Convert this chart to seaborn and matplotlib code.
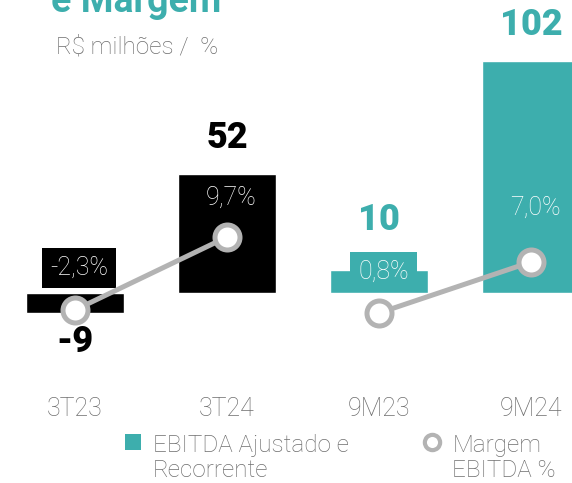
import numpy as np
import pandas as pd
import matplotlib
matplotlib.use('Agg')
import matplotlib.pyplot as plt
import seaborn as sns
from matplotlib.patches import Patch
from matplotlib.lines import Line2D

# Data
categories = ['3T23', '3T24', '9M23', '9M24']
ebitda = [-9, 52, 10, 102]
margin = [-2.3, 9.7, 0.8, 7.0]
margin_labels = ['-2,3%', '9,7%', '0,8%', '7,0%']
value_labels = ['-9', '52', '10', '102']

teal = '#3DAEAD'
grey_line = '#B3B3B3'
grey_text = '#6E6E6E'
bar_colors = ['black', 'black', teal, teal]

sns.set_style('white')
plt.rcParams['font.family'] = ['Roboto', 'DejaVu Sans']

fig = plt.figure(figsize=(5.72, 4.83), dpi=100)
# Main axes covers the full width, from y=30px to y=380px of the image
ax = fig.add_axes([0, 103 / 483, 1, 350 / 483])

df = pd.DataFrame({'cat': categories, 'ebitda': ebitda})
sns.barplot(data=df, x='cat', y='ebitda', hue='cat', palette=bar_colors,
            legend=False, width=0.645, saturation=1, ax=ax)
ax.set_xlim(-0.493, 3.27)
ax.set_ylim(-38.2, 115.4)
ax.set_xlabel('')
ax.set_ylabel('')
ax.set_yticks([])
ax.tick_params(axis='x', length=0, pad=12, labelsize=18, labelcolor=grey_text)
for lab in ax.get_xticklabels():
    lab.set_fontweight('light')
sns.despine(ax=ax, left=True, bottom=True)

# Value labels above / below the bars
value_offsets = [-29, 36, 50, 36]
value_colors = ['black', 'black', teal, teal]
for i, (v, txt) in enumerate(zip(ebitda, value_labels)):
    ax.annotate(txt, (i, v), xytext=(0, value_offsets[i] * 0.72),
                textcoords='offset points', ha='center', va='center',
                fontsize=26, fontweight='black', color=value_colors[i])

# Margin labels (white text, small bars get a box behind)
label_y = [10.9, 42, 9.1, 37.4]
box_colors = ['black', None, teal, None]
for i, txt in enumerate(margin_labels):
    bbox = None
    if box_colors[i] is not None:
        bbox = dict(boxstyle='square,pad=0.32', fc=box_colors[i], ec='none')
    ax.text(i + 0.03, label_y[i], txt, ha='center', va='center', fontsize=18,
            fontweight='light', color='white', bbox=bbox)

# Margin lines, each pair on its own secondary scale
ax2 = ax.twinx()
ax2.set_ylim(-13.81, 43.75)
ax3 = ax.twinx()
ax3.set_ylim(-7.34, 35.19)
line_kw = dict(color=grey_line, linewidth=3.6, marker='o', markersize=18,
               markerfacecolor='white', markeredgecolor=grey_line,
               markeredgewidth=3.6)
sns.lineplot(x=[0, 1], y=margin[:2], ax=ax2, **line_kw)
sns.lineplot(x=[2, 3], y=margin[2:], ax=ax3, **line_kw)
for a in (ax2, ax3):
    a.set_xlim(-0.493, 3.27)
    a.set_yticks([])
    a.set_ylabel('')
    sns.despine(ax=a, left=True, bottom=True, right=True)

# Titles
fig.text(0.09, 1 - 12 / 483, 'e Margem', fontsize=27, fontweight='bold',
         color=teal, ha='left', va='baseline')
fig.text(0.098, 1 - 47 / 483, 'R$ milhões /  %', fontsize=17.5,
         fontweight='light', color=grey_text, ha='left', va='center')

# Legend
handles = [Patch(facecolor=teal, edgecolor='none'),
           Line2D([], [], linestyle='none', marker='o', markersize=11,
                  markerfacecolor='white', markeredgecolor=grey_line,
                  markeredgewidth=3)]
leg = fig.legend(handles, ['EBITDA Ajustado e\nRecorrente', 'Margem\nEBITDA %'],
                 loc='upper left', bbox_to_anchor=(125 / 572, 1 - 434 / 483),
                 ncol=2, frameon=False, fontsize=17.5, handlelength=0.65,
                 handleheight=0.65, handletextpad=0.5, columnspacing=3.1,
                 borderpad=0, borderaxespad=0, labelspacing=0)
for t in leg.get_texts():
    t.set_color(grey_text)
    t.set_fontweight('light')
    t.set_linespacing(1.12)
# put the handles next to the first line of each label
for column in leg._legend_handle_box.get_children():
    for entry in column.get_children():
        entry.align = 'top'

fig.savefig('out.png', dpi=100)
